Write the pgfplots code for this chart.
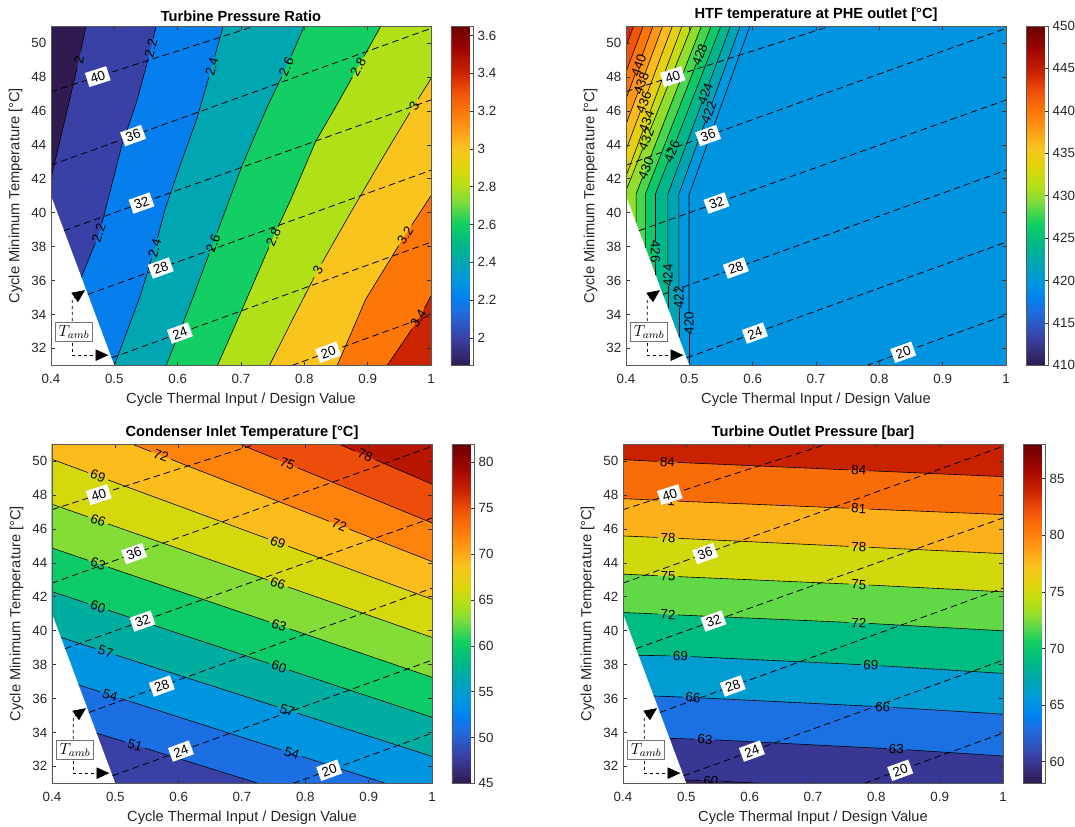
\documentclass[border=0pt]{standalone}
\usepackage{fontspec}
\setmainfont{Liberation Sans}
\usepackage{pgfplots}
\pgfplotsset{compat=1.18}
\usetikzlibrary{arrows.meta}

\pgfplotsset{
  colormap={cmr}{
    rgb255(0cm)=(48,26,80)
    rgb255(8cm)=(58,64,165)
    rgb255(16cm)=(30,110,225)
    rgb255(20cm)=(0,130,240)
    rgb255(25cm)=(0,152,222)
    rgb255(31cm)=(0,168,172)
    rgb255(37cm)=(0,190,125)
    rgb255(42cm)=(20,208,96)
    rgb255(48cm)=(125,220,60)
    rgb255(53cm)=(180,224,20)
    rgb255(58cm)=(222,214,10)
    rgb255(64cm)=(250,195,30)
    rgb255(70cm)=(255,150,20)
    rgb255(75cm)=(252,118,8)
    rgb255(81cm)=(238,78,10)
    rgb255(86cm)=(204,36,0)
    rgb255(93cm)=(160,6,0)
    rgb255(100cm)=(105,0,0)
  },
}
\pgfkeys{/pgf/number format/assume math mode=true}

\tikzset{
  clab/.style={sloped, font=\fontsize{10}{12}\selectfont, inner sep=0pt, text=black},
  tlab/.style={sloped, fill=white, font=\fontsize{10}{12}\selectfont, inner xsep=2.8pt, inner ysep=2pt, text=black},
}
\pgfplotsset{
  cline/.style={black, line width=0.45pt},
  tline/.style={black, line width=0.6pt, dash pattern=on 5pt off 3pt},
  aline/.style={black, line width=0.5pt, dash pattern=on 2.5pt off 2pt},
  panel/.style={
    scale only axis, width=285pt, height=254.5pt, anchor=north west,
    xmin=0.4, xmax=1, ymin=31, ymax=51,
    xtick={0.4,0.5,0.6,0.7,0.8,0.9,1},
    ytick={32,34,36,38,40,42,44,46,48,50},
    tick align=inside, tick pos=both, major tick length=2.8pt,
    axis line style={black!65, line width=0.4pt},
    every tick/.style={black!80, line width=0.4pt},
    tick label style={font=\fontsize{10}{12}\selectfont, text=black!85},
    xticklabel style={yshift=-3pt},
    xlabel={Cycle Thermal Input / Design Value},
    ylabel={Cycle Minimum Temperature [°C]},
    label style={font=\fontsize{11}{13}\selectfont, text=black!85},
    title style={font=\bfseries\fontsize{11}{13}\selectfont, yshift=-6pt},
    axis on top, clip=true,
    colormap name=cmr, colorbar,
    colorbar shift/.style={xshift=15pt},
    colorbar style={at={(parent axis.north east)}, anchor=north west,
      width=16.5pt, tick align=inside, major tick length=2pt,
      ytick pos=right, yticklabel pos=right,
      axis line style={black!65, line width=0.4pt},
      every tick/.style={black!80, line width=0.4pt},
      yticklabel style={font=\fontsize{10}{12}\selectfont, text=black!85}},
  },
}
\newcommand{\band}[2]{\addplot[draw=none, fill, color of colormap={#1 of cmr}] coordinates {#2};}
\newcommand{\cl}[1]{\addplot[cline] coordinates {#1};}
\newcommand{\lb}[3]{\addplot[draw=none] coordinates {#1 #2} node[pos=0.5, clab] {#3};}
\newcommand{\tri}{\addplot[draw=none, fill=white] coordinates {(0.39,42) (0.51,30) (0.39,30)};}
\newcommand{\tamb}{%
  \addplot[tline] coordinates {(0.4,47.13) (0.7225,51)} node[pos=0.229, tlab] {40};
  \addplot[tline] coordinates {(0.4,42.8) (1,50.86)} node[pos=0.216, tlab] {36};
  \addplot[tline] coordinates {(0.4206,38.94) (1,46.64)} node[pos=0.211, tlab] {32};
  \addplot[tline] coordinates {(0.4582,35.18) (1,42.5)} node[pos=0.2126, tlab] {28};
  \addplot[tline] coordinates {(0.4956,31.44) (1,38.26)} node[pos=0.214, tlab] {24};
  \addplot[tline] coordinates {(0.7807,31) (1,33.96)} node[pos=0.26, tlab] {20};
  \node[draw=black!55, fill=white, inner xsep=2.2pt, inner ysep=2pt, line width=0.5pt] at (axis cs:0.4365,32.97) {\fontsize{12}{14}\selectfont$T_{amb}$};
  \addplot[aline, -{Triangle[length=9.5pt,width=8.5pt]}] coordinates {(0.4336,33.6) (0.4336,34.9) (0.4537,35.43)};
  \addplot[aline, -{Triangle[length=9.5pt,width=8.5pt]}] coordinates {(0.4336,32.34) (0.4336,31.6) (0.4905,31.6)};
}

\begin{document}
\begin{tikzpicture}
\useasboundingbox (0,0) rectangle (806.25pt,-619.5pt);

%================ Turbine Pressure Ratio
\begin{axis}[panel, at={(38.25pt,-19.5pt)}, title={Turbine Pressure Ratio},
  point meta min=1.855, point meta max=3.65,
  colorbar style={ytick={2,2.2,2.4,2.6,2.8,3,3.2,3.4,3.6}}]
\band{0}{(0.39,30) (1.1,30) (1.1,52) (0.39,52)}
\band{81}{(0.458,52) (0.4552,51) (0.4443,49) (0.4,42) (0.39,40.5) (0.39,30) (1.1,30) (1.1,52)}
\band{192}{(0.568,52) (0.566,51) (0.558,49.7) (0.535,46.5) (0.512,44) (0.495,41.5) (0.4765,38.8) (0.448,36.2) (0.42,33) (0.42,30) (1.1,30) (1.1,52)}
\band{304}{(0.675,52) (0.672,51) (0.654,48.6) (0.63,45.5) (0.604,42.8) (0.58,40.2) (0.564,37.9) (0.54,35) (0.52,33) (0.5,31) (0.49,30) (1.1,30) (1.1,52)}
\band{415}{(0.81,52) (0.80,51) (0.772,48.6) (0.741,46.2) (0.702,42.8) (0.656,38.2) (0.62,34.6) (0.582,31) (0.571,30) (1.1,30) (1.1,52)}
\band{526}{(0.936,52) (0.921,51) (0.885,48.6) (0.852,46.4) (0.818,44.2) (0.779,40.8) (0.751,38.56) (0.71,35) (0.663,31) (0.65,30) (1.1,30) (1.1,52)}
\band{638}{(1.1,49.5) (1,47.9) (0.973,46.3) (0.92,43) (0.87,39.8) (0.821,36.6) (0.78,33.6) (0.745,31) (0.73,30) (1.1,30)}
\band{749}{(1.1,42.5) (1,41) (0.959,38.66) (0.897,34.9) (0.852,31) (0.84,30) (1.1,30)}
\band{861}{(1.1,36.5) (1,35.1) (0.981,33.75) (0.931,31) (0.92,30) (1.1,30)}
\tri
% 2.0
\cl{(0.4552,51) (0.4470,49.5)} \lb{(0.4470,49.5)}{(0.4411,48.5)}{2} \cl{(0.4411,48.5) (0.4,42)}
% 2.2
\cl{(0.566,51) (0.5617,50.3)} \lb{(0.5617,50.3)}{(0.5537,49.1)}{2.2}
\cl{(0.5537,49.1) (0.535,46.5) (0.512,44) (0.495,41.5) (0.4806,39.4)} \lb{(0.4806,39.4)}{(0.4699,38.2)}{2.2}
\cl{(0.4699,38.2) (0.448,36.2)}
% 2.4
\cl{(0.672,51) (0.6585,49.2)} \lb{(0.6585,49.2)}{(0.6494,48.0)}{2.4}
\cl{(0.6494,48.0) (0.63,45.5) (0.604,42.8) (0.58,40.2) (0.5682,38.5)} \lb{(0.5682,38.5)}{(0.559,37.3)}{2.4}
\cl{(0.559,37.3) (0.54,35) (0.52,33) (0.5,31)}
% 2.6
\cl{(0.80,51) (0.779,49.2)} \lb{(0.779,49.2)}{(0.7643,48.0)}{2.6}
\cl{(0.7643,48.0) (0.741,46.2) (0.702,42.8) (0.662,38.8)} \lb{(0.662,38.8)}{(0.65,37.6)}{2.6}
\cl{(0.65,37.6) (0.62,34.6) (0.582,31)}
% 2.8
\cl{(0.921,51) (0.894,49.2)} \lb{(0.894,49.2)}{(0.876,48.0)}{2.8}
\cl{(0.876,48.0) (0.852,46.4) (0.818,44.2) (0.779,40.8) (0.7585,39.16)} \lb{(0.7585,39.16)}{(0.7441,37.96)}{2.8}
\cl{(0.7441,37.96) (0.71,35) (0.663,31)}
% 3.0
\cl{(1,47.9) (0.9798,46.7)} \lb{(0.9798,46.7)}{(0.9667,45.9)}{3}
\cl{(0.9667,45.9) (0.92,43) (0.87,39.8) (0.8273,37.0)} \lb{(0.8273,37.0)}{(0.8156,36.2)}{3}
\cl{(0.8156,36.2) (0.78,33.6) (0.745,31)}
% 3.2
\cl{(1,41) (0.9695,39.26)} \lb{(0.9695,39.26)}{(0.9491,38.06)}{3.2}
\cl{(0.9491,38.06) (0.897,34.9) (0.852,31)}
% 3.4
\cl{(1,35.1) (0.9895,34.35)} \lb{(0.9895,34.35)}{(0.9701,33.15)}{3.4}
\cl{(0.9701,33.15) (0.931,31)}
\tamb
\end{axis}

%================ HTF temperature
\begin{axis}[panel, at={(469.5pt,-19.5pt)}, title={HTF temperature at PHE outlet [°C]},
  point meta min=410, point meta max=450,
  colorbar style={ytick={410,415,420,425,430,435,440,445,450}}]
\band{242}{(0.39,30) (1.1,30) (1.1,52) (0.39,52)}
\band{250}{(0.4995,30) (0.4995,41.05) (0.5956,51) (0.6053,52) (0.39,52) (0.39,30)}
\band{300}{(0.4835,30) (0.4835,41.1) (0.5803,51) (0.59,52) (0.39,52) (0.39,30)}
\band{350}{(0.4661,30) (0.4661,41.1) (0.565,51) (0.575,52) (0.39,52) (0.39,30)}
\band{400}{(0.4465,30) (0.4465,41.1) (0.5497,51) (0.56,52) (0.39,52) (0.39,30)}
\band{450}{(0.4307,30) (0.4307,41.1) (0.5344,51) (0.545,52) (0.39,52) (0.39,30)}
\band{500}{(0.4159,30) (0.4159,41.1) (0.5191,51) (0.529,52) (0.39,52) (0.39,30)}
\band{550}{(0.39,40.3) (0.4,41.3) (0.5038,51) (0.514,52) (0.39,52)}
\band{600}{(0.39,41.15) (0.4,42.15) (0.4885,51) (0.4985,52) (0.39,52)}
\band{650}{(0.39,42.7) (0.4,43.7) (0.4732,51) (0.483,52) (0.39,52)}
\band{700}{(0.39,44.2) (0.4,45.2) (0.4579,51) (0.468,52) (0.39,52)}
\band{750}{(0.39,45.7) (0.4,46.7) (0.4426,51) (0.452,52) (0.39,52)}
\band{800}{(0.39,47.3) (0.4,48.3) (0.4273,51) (0.437,52) (0.39,52)}
\band{850}{(0.39,48.8) (0.4,49.8) (0.412,51) (0.42,52) (0.39,52)}
\tri
\cl{(0.4995,31.05) (0.4995,32.9)} \lb{(0.4995,32.9)}{(0.4995,34.1)}{420} \cl{(0.4995,34.1) (0.4995,41.05) (0.5956,51)}
\cl{(0.4835,32.65) (0.4835,34.4)} \lb{(0.4835,34.4)}{(0.4835,35.6)}{422}
\cl{(0.4835,35.6) (0.4835,41.1) (0.5251,45.35)} \lb{(0.5251,45.35)}{(0.5358,46.45)}{422} \cl{(0.5358,46.45) (0.5803,51)}
\cl{(0.4661,34.39) (0.4661,35.7)} \lb{(0.4661,35.7)}{(0.4661,36.9)}{424}
\cl{(0.4661,36.9) (0.4661,41.1) (0.5195,46.45)} \lb{(0.5195,46.45)}{(0.5305,47.55)}{424} \cl{(0.5305,47.55) (0.565,51)}
\cl{(0.4465,36.35) (0.4465,37.1)} \lb{(0.4465,38.3)}{(0.4465,37.1)}{426}
\cl{(0.4465,38.3) (0.4465,41.1) (0.4668,43.05)} \lb{(0.4668,43.05)}{(0.4783,44.15)}{426} \cl{(0.4783,44.15) (0.5497,51)}
\cl{(0.4307,37.93) (0.4307,41.1) (0.5108,48.75)} \lb{(0.5108,48.75)}{(0.5223,49.85)}{428} \cl{(0.5223,49.85) (0.5344,51)}
\cl{(0.4159,39.41) (0.4159,41.1) (0.4258,42.05)} \lb{(0.4258,42.05)}{(0.4373,43.15)}{430} \cl{(0.4373,43.15) (0.5191,51)}
\cl{(0.4,41.3) (0.4262,43.75)} \lb{(0.4262,43.75)}{(0.438,44.85)}{432} \cl{(0.438,44.85) (0.5038,51)}
\cl{(0.4,42.15) (0.427,44.85)} \lb{(0.427,44.85)}{(0.438,45.95)}{434} \cl{(0.438,45.95) (0.4885,51)}
\cl{(0.4,43.7) (0.4226,45.95)} \lb{(0.4226,45.95)}{(0.4336,47.05)}{436} \cl{(0.4336,47.05) (0.4732,51)}
\cl{(0.4,45.2) (0.4185,47.05)} \lb{(0.4185,47.05)}{(0.4295,48.15)}{438} \cl{(0.4295,48.15) (0.4579,51)}
\cl{(0.4,46.7) (0.4144,48.15)} \lb{(0.4144,48.15)}{(0.4253,49.25)}{440} \cl{(0.4253,49.25) (0.4426,51)}
\cl{(0.4,48.3) (0.4273,51)}
\cl{(0.4,49.8) (0.412,51)}
\tamb
\end{axis}

%================ Condenser Inlet Temperature
\begin{axis}[panel, at={(39pt,-333pt)}, title={Condenser Inlet Temperature [°C]},
  point meta min=45, point meta max=82,
  colorbar style={ytick={45,50,55,60,65,70,75,80}}]
\band{81}{(0.39,30) (1.1,30) (1.1,52) (0.39,52)}
\band{162}{(0.39,34.89) (0.8122,30) (1.1,30) (1.1,52) (0.39,52)}
\band{243}{(0.39,37.42) (1.0103,30) (1.1,30) (1.1,52) (0.39,52)}
\band{324}{(0.39,39.89) (1.1,31.39) (1.1,52) (0.39,52)}
\band{405}{(0.39,42.42) (1.1,33.66) (1.1,52) (0.39,52)}
\band{486}{(0.39,45.0) (1.1,35.98) (1.1,52) (0.39,52)}
\band{568}{(0.39,47.58) (1.1,38.29) (1.1,52) (0.39,52)}
\band{649}{(0.39,50.24) (1.1,40.48) (1.1,52) (0.39,52)}
\band{730}{(0.4576,52) (1.1,42.61) (1.1,52)}
\band{811}{(0.6306,52) (1.1,44.82) (1.1,52)}
\band{892}{(0.7901,52) (1.1,47.04) (1.1,52)}
\tri
\cl{(0.4704,33.96) (0.5151,33.442)} \lb{(0.5151,33.442)}{(0.5471,33.071)}{51} \cl{(0.5471,33.071) (0.7259,31)}
\cl{(0.442,36.8) (0.4758,36.396)} \lb{(0.4758,36.396)}{(0.5078,36.013)}{54} \cl{(0.5078,36.013) (0.7627,32.963)} \lb{(0.7627,32.963)}{(0.7947,32.580)}{54} \cl{(0.7947,32.580) (0.9267,31)}
\cl{(0.414,39.6) (0.4687,38.946)} \lb{(0.4687,38.946)}{(0.5007,38.563)}{57} \cl{(0.5007,38.563) (0.7556,35.514)} \lb{(0.7556,35.514)}{(0.7876,35.131)}{57} \cl{(0.7876,35.131) (1,32.59)}
\cl{(0.4,42.3) (0.4567,41.600)} \lb{(0.4567,41.600)}{(0.4887,41.205)}{60} \cl{(0.4887,41.205) (0.7425,38.070)} \lb{(0.7425,38.070)}{(0.7745,37.675)}{60} \cl{(0.7745,37.675) (1,34.89)}
\cl{(0.4,44.87) (0.4567,44.150)} \lb{(0.4567,44.150)}{(0.4887,43.744)}{63} \cl{(0.4887,43.744) (0.7425,40.520)} \lb{(0.7425,40.520)}{(0.7745,40.114)}{63} \cl{(0.7745,40.114) (1,37.25)}
\cl{(0.4,47.45) (0.4567,46.708)} \lb{(0.4567,46.708)}{(0.4887,46.290)}{66} \cl{(0.4887,46.290) (0.7408,42.991)} \lb{(0.7408,42.991)}{(0.7728,42.573)}{66} \cl{(0.7728,42.573) (1,39.6)}
\cl{(0.4,50.1) (0.4567,49.320)} \lb{(0.4567,49.320)}{(0.4887,48.880)}{69} \cl{(0.4887,48.880) (0.7408,45.414)} \lb{(0.7408,45.414)}{(0.7728,44.974)}{69} \cl{(0.7728,44.974) (1,41.85)}
\cl{(0.526,51) (0.5561,50.560)} \lb{(0.5561,50.560)}{(0.5881,50.092)}{72} \cl{(0.5881,50.092) (0.8376,46.444)} \lb{(0.8376,46.444)}{(0.8696,45.977)}{72} \cl{(0.8696,45.977) (1,44.07)}
\cl{(0.696,51) (0.7556,50.088)} \lb{(0.7556,50.088)}{(0.7876,49.599)}{75} \cl{(0.7876,49.599) (1,46.35)}
\cl{(0.8526,51) (0.8785,50.585)} \lb{(0.8785,50.585)}{(0.9105,50.073)}{78} \cl{(0.9105,50.073) (1,48.64)}
\tamb
\end{axis}

%================ Turbine Outlet Pressure
\begin{axis}[panel, at={(467.25pt,-333pt)}, title={Turbine Outlet Pressure [bar]},
  point meta min=58.09, point meta max=88.06,
  colorbar style={ytick={60,65,70,75,80,85}}]
\band{15}{(0.39,30) (1.1,30) (1.1,52) (0.39,52)}
\band{64}{(0.39,31.3) (0.498,31.2) (0.5387,31.16) (0.62,31.0) (0.7,30.85) (0.8,30.6) (1.1,30) (1.1,52) (0.39,52)}
\band{164}{(0.39,33.66) (0.4735,33.65) (0.5295,33.59) (0.8317,33.02) (1,32.61) (1.1,32.37) (1.1,52) (0.39,52)}
\band{264}{(0.39,36.2) (0.4485,36.15) (0.5106,36.06) (0.8101,35.51) (1,35.08) (1.1,34.85) (1.1,52) (0.39,52)}
\band{364}{(0.39,38.58) (0.4245,38.55) (0.4907,38.5) (0.7912,37.97) (1,37.48) (1.1,37.25) (1.1,52) (0.39,52)}
\band{464}{(0.39,41.09) (0.4,41.07) (0.4712,40.95) (0.7723,40.46) (1,39.99) (1.1,39.78) (1.1,52) (0.39,52)}
\band{564}{(0.39,43.35) (0.4,43.33) (0.4712,43.21) (0.7723,42.72) (1,42.29) (1.1,42.1) (1.1,52) (0.39,52)}
\band{664}{(0.39,45.6) (0.4,45.58) (0.4712,45.47) (0.7723,44.94) (1,44.54) (1.1,44.36) (1.1,52) (0.39,52)}
\band{764}{(0.39,47.8) (0.4,47.78) (0.4702,47.66) (0.7723,47.19) (1,46.84) (1.1,46.69) (1.1,52) (0.39,52)}
\band{865}{(0.39,50.1) (0.4,50.08) (0.4702,49.94) (0.7723,49.45) (1,49.08) (1.1,48.92) (1.1,52) (0.39,52)}
\tri
\cl{(0.498,31.2) (0.5227,31.176)} \lb{(0.5227,31.176)}{(0.5547,31.128)}{60} \cl{(0.5547,31.128) (0.62,31.0) (0.7,30.85)}
\cl{(0.4735,33.65) (0.5135,33.607)} \lb{(0.5135,33.607)}{(0.5455,33.560)}{63} \cl{(0.5455,33.560) (0.8157,33.050)} \lb{(0.8157,33.050)}{(0.8477,32.981)}{63} \cl{(0.8477,32.981) (1,32.61)}
\cl{(0.4485,36.15) (0.4946,36.083)} \lb{(0.4946,36.083)}{(0.5266,36.031)}{66} \cl{(0.5266,36.031) (0.7941,35.539)} \lb{(0.7941,35.539)}{(0.8261,35.474)}{66} \cl{(0.8261,35.474) (1,35.08)}
\cl{(0.4245,38.55) (0.4747,38.512)} \lb{(0.4747,38.512)}{(0.5067,38.472)}{69} \cl{(0.5067,38.472) (0.7752,37.998)} \lb{(0.7752,37.998)}{(0.8072,37.932)}{69} \cl{(0.8072,37.932) (1,37.48)}
\cl{(0.4,41.07) (0.4552,40.977)} \lb{(0.4552,40.977)}{(0.4872,40.924)}{72} \cl{(0.4872,40.924) (0.7563,40.486)} \lb{(0.7563,40.486)}{(0.7883,40.427)}{72} \cl{(0.7883,40.427) (1,39.99)}
\cl{(0.4,43.33) (0.4552,43.237)} \lb{(0.4552,43.237)}{(0.4872,43.184)}{75} \cl{(0.4872,43.184) (0.7563,42.746)} \lb{(0.7563,42.746)}{(0.7883,42.690)}{75} \cl{(0.7883,42.690) (1,42.29)}
\cl{(0.4,45.58) (0.4552,45.495)} \lb{(0.4552,45.495)}{(0.4872,45.442)}{78} \cl{(0.4872,45.442) (0.7563,44.968)} \lb{(0.7563,44.968)}{(0.7883,44.912)}{78} \cl{(0.7883,44.912) (1,44.54)}
\cl{(0.4,47.78) (0.4542,47.687)} \lb{(0.4542,47.687)}{(0.4862,47.635)}{81} \cl{(0.4862,47.635) (0.7563,47.215)} \lb{(0.7563,47.215)}{(0.7883,47.165)}{81} \cl{(0.7883,47.165) (1,46.84)}
\cl{(0.4,50.08) (0.4542,49.972)} \lb{(0.4542,49.972)}{(0.4862,49.914)}{84} \cl{(0.4862,49.914) (0.7563,49.476)} \lb{(0.7563,49.476)}{(0.7883,49.424)}{84} \cl{(0.7883,49.424) (1,49.08)}
\tamb
\end{axis}
\end{tikzpicture}
\end{document}
